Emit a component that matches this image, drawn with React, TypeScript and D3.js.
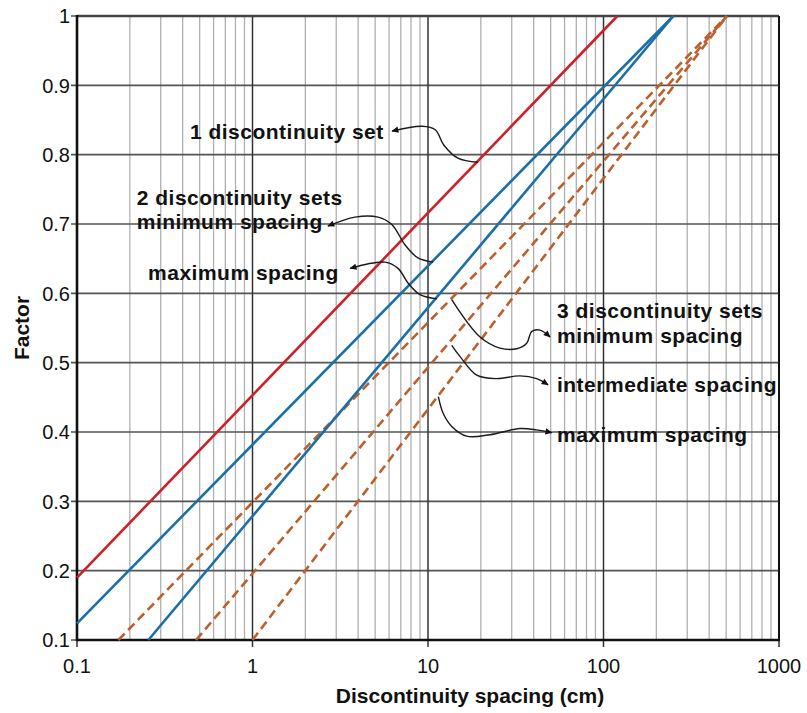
import React from "react";
import * as d3 from "d3";

// ---- data ----
const xTickValues = [0.1, 1, 10, 100, 1000];
const xTickLabels = ["0.1", "1", "10", "100", "1000"];
const yTickValues = [0.1, 0.2, 0.3, 0.4, 0.5, 0.6, 0.7, 0.8, 0.9, 1.0];
const yTickLabels = ["0.1", "0.2", "0.3", "0.4", "0.5", "0.6", "0.7", "0.8", "0.9", "1"];
const minorMultipliers = [2, 3, 4, 5, 6, 7, 8, 9];
const decades = [0.1, 1, 10, 100];

// series: spacing (cm) vs factor
const oneSetX = [0.1, 120];
const oneSetY = [0.19, 1.0];
const twoSetsMinX = [0.1, 250];
const twoSetsMinY = [0.124, 1.0];
const twoSetsMaxX = [0.255, 250];
const twoSetsMaxY = [0.1, 1.0];
const threeSetsMinX = [0.172, 505];
const threeSetsMinY = [0.1, 1.0];
const threeSetsIntX = [0.477, 505];
const threeSetsIntY = [0.1, 1.0];
const threeSetsMaxX = [1.0, 505];
const threeSetsMaxY = [0.1, 1.0];

// annotation leader curves (data units), ending at the arrow tip
const arrowOneSetX = [19.3, 14.8, 12.3, 11.0, 9.25, 6.24];
const arrowOneSetY = [0.789, 0.795, 0.814, 0.836, 0.841, 0.834];
const arrowTwoMinX = [10.7, 8.77, 7.39, 6.24, 5.19, 3.84, 2.69];
const arrowTwoMinY = [0.645, 0.651, 0.67, 0.699, 0.71, 0.71, 0.697];
const arrowTwoMaxX = [11.25, 9.0, 7.69, 6.75, 5.69, 3.6];
const arrowTwoMaxY = [0.592, 0.598, 0.615, 0.636, 0.645, 0.636];
const arrowThreeMinX = [13.65, 19.8, 25.7, 32.0, 36.5, 39.0, 43.5, 49.6];
const arrowThreeMinY = [0.591, 0.537, 0.521, 0.52, 0.528, 0.545, 0.547, 0.537];
const arrowThreeIntX = [13.65, 15.2, 18.95, 24.6, 33.4, 41.6, 48.3];
const arrowThreeIntY = [0.525, 0.509, 0.482, 0.477, 0.481, 0.477, 0.468];
const arrowThreeMaxX = [11.45, 12.2, 13.65, 16.6, 22.5, 33.4, 41.6, 50.7];
const arrowThreeMaxY = [0.451, 0.427, 0.408, 0.394, 0.396, 0.405, 0.403, 0.399];

// annotation texts with anchor (x in cm, y factor at baseline)
const labelTexts = [
  "1 discontinuity set",
  "2 discontinuity sets",
  "minimum spacing",
  "maximum spacing",
  "3 discontinuity sets",
  "minimum spacing",
  "intermediate spacing",
  "maximum spacing",
];
const labelX = [0.44, 0.219, 0.219, 0.254, 54.3, 54.3, 54.3, 54.3];
const labelY = [0.823, 0.727, 0.693, 0.619, 0.564, 0.528, 0.458, 0.386];

const zip = (xs: number[], ys: number[]) => xs.map((x, i) => [x, ys[i]] as [number, number]);

export default function App() {
  const W = 807;
  const H = 713;
  const left = 77, right = 779, top = 16, bottom = 640;

  const x = d3.scaleLog().domain([0.1, 1000]).range([left, right]);
  const y = d3.scaleLinear().domain([0.1, 1.0]).range([bottom, top]);

  const line = d3
    .line<[number, number]>()
    .x((d) => x(d[0]))
    .y((d) => y(d[1]));
  const curve = d3
    .line<[number, number]>()
    .x((d) => x(d[0]))
    .y((d) => y(d[1]))
    .curve(d3.curveCatmullRom.alpha(0.5));

  const minorValues: number[] = [];
  decades.forEach((dv) => minorMultipliers.forEach((m) => minorValues.push(dv * m)));

  const font = "'Liberation Sans', Arial, Helvetica, sans-serif";
  const red = "#cf2027";
  const blue = "#1b6fa9";
  const brown = "#bd5f2b";

  const solid = [
    { xs: oneSetX, ys: oneSetY, c: red },
    { xs: twoSetsMinX, ys: twoSetsMinY, c: blue },
    { xs: twoSetsMaxX, ys: twoSetsMaxY, c: blue },
  ];
  const dashed = [
    { xs: threeSetsMinX, ys: threeSetsMinY },
    { xs: threeSetsIntX, ys: threeSetsIntY },
    { xs: threeSetsMaxX, ys: threeSetsMaxY },
  ];
  const arrows = [
    zip(arrowOneSetX, arrowOneSetY),
    zip(arrowTwoMinX, arrowTwoMinY),
    zip(arrowTwoMaxX, arrowTwoMaxY),
    zip(arrowThreeMinX, arrowThreeMinY),
    zip(arrowThreeIntX, arrowThreeIntY),
    zip(arrowThreeMaxX, arrowThreeMaxY),
  ];

  return (
    <svg
      width={W}
      height={H}
      style={{ position: "absolute", left: 0, top: 0, background: "#fff" }}
      fontFamily={font}
    >
      <defs>
        <marker
          id="ah"
          viewBox="0 0 10 10"
          refX="9"
          refY="5"
          markerWidth="8"
          markerHeight="7"
          markerUnits="userSpaceOnUse"
          orient="auto"
        >
          <path d="M0,0.5 L10,5 L0,9.5 z" fill="#111" />
        </marker>
      </defs>
      <rect x={0} y={0} width={W} height={H} fill="#fff" />

      {/* minor vertical grid */}
      {minorValues.map((v, i) => (
        <line key={"mv" + i} x1={x(v)} x2={x(v)} y1={top} y2={bottom} stroke="#b0b0b0" strokeWidth={1.3} />
      ))}
      {/* horizontal grid */}
      {yTickValues.map((v, i) => (
        <line key={"hg" + i} x1={left - 6} x2={right} y1={y(v)} y2={y(v)} stroke="#555" strokeWidth={1.6} />
      ))}
      {/* major vertical grid */}
      {xTickValues.map((v, i) => (
        <line key={"vg" + i} x1={x(v)} x2={x(v)} y1={top} y2={bottom + 7} stroke="#333" strokeWidth={1.5} />
      ))}

      {/* frame */}
      <line x1={left} x2={right} y1={top} y2={top} stroke="#444" strokeWidth={2.5} />
      <line x1={right} x2={right} y1={top} y2={bottom} stroke="#111" strokeWidth={2} />
      <line x1={left} x2={left} y1={top - 1} y2={bottom + 1} stroke="#111" strokeWidth={2.6} />
      <line x1={left - 1} x2={right + 1} y1={bottom} y2={bottom} stroke="#111" strokeWidth={2.6} />

      {/* dashed series */}
      {dashed.map((s, i) => (
        <path
          key={"d" + i}
          d={line(zip(s.xs, s.ys)) || ""}
          fill="none"
          stroke={brown}
          strokeWidth={2.6}
          strokeDasharray="9,5"
        />
      ))}
      {/* solid series */}
      {solid.map((s, i) => (
        <path key={"s" + i} d={line(zip(s.xs, s.ys)) || ""} fill="none" stroke={s.c} strokeWidth={2.6} />
      ))}

      {/* leader arrows */}
      {arrows.map((pts, i) => (
        <path
          key={"a" + i}
          d={curve(pts) || ""}
          fill="none"
          stroke="#1a1a1a"
          strokeWidth={1.4}
          markerEnd="url(#ah)"
        />
      ))}

      {/* annotation labels */}
      {labelTexts.map((t, i) => (
        <text
          key={"l" + i}
          x={x(labelX[i])}
          y={y(labelY[i])}
          fontSize={21}
          fontWeight="bold"
          letterSpacing={0.5}
          fill="#111"
        >
          {t}
        </text>
      ))}

      {/* y tick labels */}
      {yTickValues.map((v, i) => (
        <text
          key={"yt" + i}
          x={left - 7}
          y={y(v)}
          dy="0.36em"
          textAnchor="end"
          fontSize={20}
          fill="#111"
        >
          {yTickLabels[i]}
        </text>
      ))}
      {/* x tick labels */}
      {xTickValues.map((v, i) => (
        <text key={"xt" + i} x={x(v)} y={673} textAnchor="middle" fontSize={20} fill="#111">
          {xTickLabels[i]}
        </text>
      ))}

      {/* axis titles */}
      <text x={470} y={703} textAnchor="middle" fontSize={21} fontWeight="bold" fill="#111">
        Discontinuity spacing (cm)
      </text>
      <text
        transform={`translate(29,${(top + bottom) / 2}) rotate(-90)`}
        textAnchor="middle"
        fontSize={21}
        fontWeight="bold"
        fill="#111"
      >
        Factor
      </text>
    </svg>
  );
}
